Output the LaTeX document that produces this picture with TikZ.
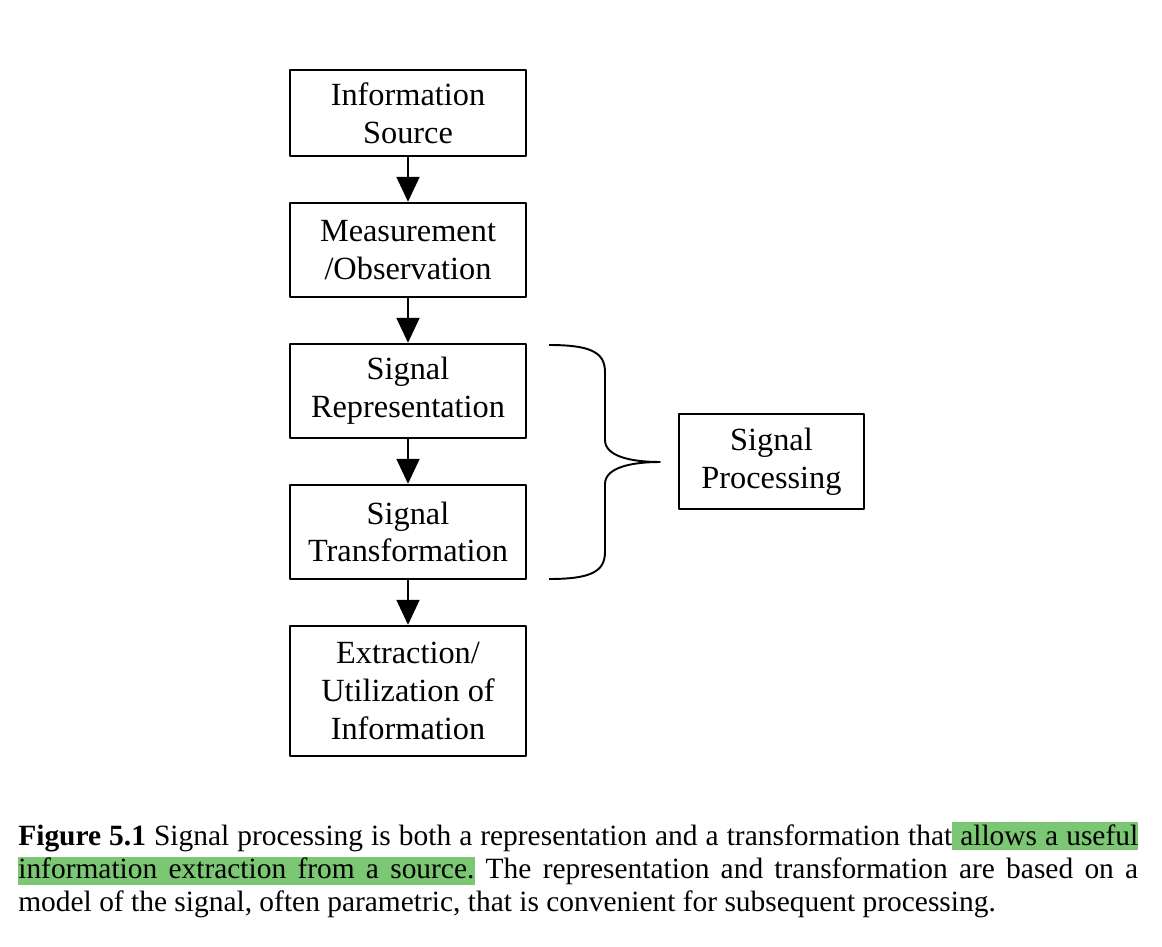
\documentclass[tikz,border=0pt]{standalone}
\usepackage{fontspec}
\setmainfont{Liberation Serif}
\usetikzlibrary{arrows.meta}
\definecolor{marker}{RGB}{124,199,116}
\tikzset{
  block/.style={draw, line width=1.4pt, minimum width=4.72cm, minimum height=1.88cm,
    align=center, font=\fontsize{18.4}{21.5}\selectfont},
  flow/.style={-{Triangle[width=0.46cm,length=0.5cm]}, line width=1.1pt},
  capline/.style={anchor=base west, inner sep=0pt, font=\fontsize{16.75}{19}\selectfont\frenchspacing},
}

\begin{document}
\begin{tikzpicture}[x=0.02cm, y=-0.02cm, line join=round]
\useasboundingbox (0,0) rectangle (1162,946);
% chain of steps
\node[block, minimum height=1.72cm] (src) at (408,113) {Information\\Source};
\node[block] (meas) at (408,250) {Measurement\\/Observation};
\node[block] (rep) at (408,391) {Signal\\Representation};
\node[block] (trans) at (408,532) {Signal\\Transformation};
\node[block, minimum height=2.6cm] (extr) at (408,691) {Extraction/\\Utilization of\\Information};
\node[block, minimum width=3.7cm, minimum height=1.9cm] (proc) at (771.5,461.5) {Signal\\Processing};
\draw[flow] (src) -- (meas);
\draw[flow] (meas) -- (rep);
\draw[flow] (rep) -- (trans);
\draw[flow] (trans) -- (extr);
% brace
\draw[line width=1.1pt] (549,345) .. controls (590,345) and (605,352) .. (605,372)
  -- (605,440) .. controls (605,456) and (630,462) .. (660,462)
  .. controls (630,462) and (605,468) .. (605,484)
  -- (605,552) .. controls (605,572) and (590,579) .. (549,579);
% caption
\fill[marker] (952,822) rectangle (1138,850);
\fill[marker] (18,857) rectangle (475,885);
\node[capline] (cap1) at (18,845) {\makebox[22.4cm][s]{\textbf{Figure 5.1} Signal processing is both a representation and a transformation that allows a useful}};
\node[capline] (cap2) at (18,878) {\makebox[22.4cm][s]{information extraction from a source. The representation and transformation are based on a}};
\node[capline] (cap3) at (18,911) {model of the signal, often parametric, that is convenient for subsequent processing.};
\end{tikzpicture}
\end{document}
